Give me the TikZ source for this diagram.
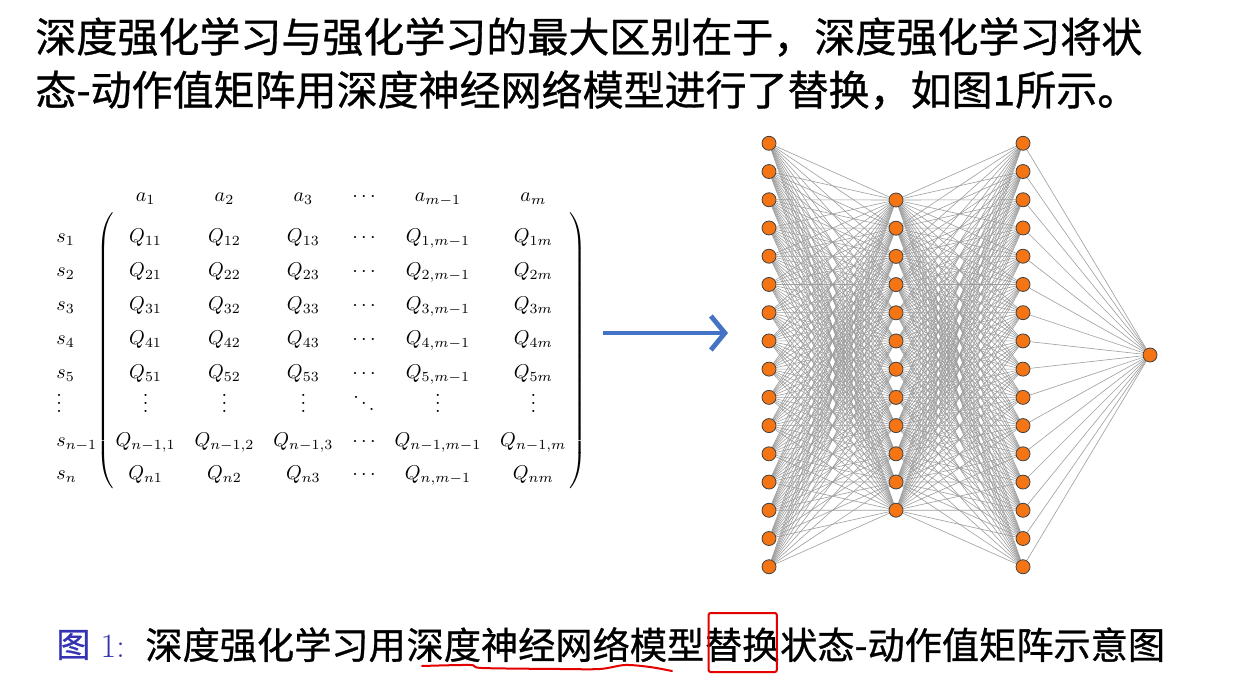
\documentclass[tikz,border=0pt]{standalone}
\usepackage{fontspec}
\newfontfamily\cjk{Noto Sans CJK SC}[FakeBold=0.8]
\usetikzlibrary{arrows.meta,chains,matrix,positioning,backgrounds,calc}
\definecolor{nnorange}{RGB}{245,117,20}
\definecolor{arrowblue}{RGB}{68,114,196}
\definecolor{capblue}{RGB}{51,51,179}

\begin{document}
\begin{tikzpicture}[
  x=0.5pt, y=-0.5pt,
  neuron/.style={circle,draw=black!75,fill=nnorange,line width=0.4pt,minimum size=7pt,inner sep=0pt},
  synapse/.style={draw=black!38,line width=0.3pt},
  titleline/.style={anchor=west,inner sep=0pt,font=\cjk\fontsize{20.5}{24}\selectfont},
  captxt/.style={inner sep=0pt,text height=16.3pt,text depth=2.3pt,font=\cjk\fontsize{18.6}{22}\selectfont},
  capname/.style={anchor=west,inner sep=0pt,text=capblue,font=\fontsize{17}{20}\selectfont},
  cell/.style={inner sep=0pt,text height=7.2pt,text depth=2.4pt,font=\fontsize{10}{12}\selectfont},
  paren/.style={inner sep=0pt,font=\fontsize{10}{12}\selectfont},
  bigarrow/.style={arrowblue,line width=2pt,-{Straight Barb[length=7pt,width=17pt,line width=2.4pt]}},
  markbox/.style={draw=red!90!black,line width=1pt,rounded corners=1pt},
  markwave/.style={draw=red!90!black,line width=1pt,line cap=round}
]
  \useasboundingbox (0,0) rectangle (1236,689);

  \node[titleline] (title-1) at (35,37) {深度强化学习与强化学习的最大区别在于，深度强化学习将状};
  \node[titleline] (title-2) at (35,90) {态-动作值矩阵用深度神经网络模型进行了替换，如图1所示。};

  \matrix (qmat) [matrix of math nodes,nodes={cell},column sep=9.5pt,row sep=7.35pt,inner sep=0pt] at (341,356.5) {
    Q_{11} & Q_{12} & Q_{13} & \cdots & Q_{1,m-1} & Q_{1m} \\
    Q_{21} & Q_{22} & Q_{23} & \cdots & Q_{2,m-1} & Q_{2m} \\
    Q_{31} & Q_{32} & Q_{33} & \cdots & Q_{3,m-1} & Q_{3m} \\
    Q_{41} & Q_{42} & Q_{43} & \cdots & Q_{4,m-1} & Q_{4m} \\
    Q_{51} & Q_{52} & Q_{53} & \cdots & Q_{5,m-1} & Q_{5m} \\
    \vdots & \vdots & \vdots & \ddots & \vdots & \vdots \\
    Q_{n-1,1} & Q_{n-1,2} & Q_{n-1,3} & \cdots & Q_{n-1,m-1} & Q_{n-1,m} \\
    Q_{n1} & Q_{n2} & Q_{n3} & \cdots & Q_{n,m-1} & Q_{nm} \\
  };
  \node[paren] (paren-l) at (106,351) {$\left(\vcenter{\hrule height 139pt width 0pt}\right.$};
  \node[paren] (paren-r) at (577,351) {$\left.\vcenter{\hrule height 139pt width 0pt}\right)$};
  \foreach \j/\lab in {1/a_1,2/a_2,3/a_3,4/\cdots,5/a_{m-1},6/a_m}
    \node[cell,above=10.5pt of qmat-1-\j] (act-\j) {$\lab$};
  \foreach \i/\lab in {1/s_1,2/s_2,3/s_3,4/s_4,5/s_5,6/\vdots,7/s_{n-1},8/s_n}
    \node[cell,anchor=west] (state-\i) at (56,0 |- qmat-\i-1) {$\lab$};

  \coordinate (arrow-tail) at (603,333);
  \coordinate (arrow-head) at (728,333);
  \draw[bigarrow] (arrow-tail) -- (arrow-head);

  \foreach \i in {1,...,16} {
    \node[neuron] (in-\i) at (769,{143.3+28.23*(\i-1)}) {};
    \node[neuron] (hid-b-\i) at (1023,{143.3+28.23*(\i-1)}) {};
  }
  \foreach \j in {1,...,12}
    \node[neuron] (hid-a-\j) at (896,{200+28.2*(\j-1)}) {};
  \node[neuron] (out) at (1150,355) {};

  \begin{scope}[on background layer]
    \fill[white] (0,0) rectangle (1236,689);
    \foreach \i in {1,...,16} {
      \foreach \j in {1,...,12} {
        \draw[synapse] (in-\i) -- (hid-a-\j);
        \draw[synapse] (hid-a-\j) -- (hid-b-\i);
      }
      \draw[synapse] (hid-b-\i) -- (out);
    }
  \end{scope}

  \node[capname] (cap-name) at (56,645) {{\cjk 图}\ 1:};
  \begin{scope}[start chain=caption going right,node distance=0pt]
    \node[captxt,on chain=caption,anchor=west] (cap-head) at (145,645) {深度强化学习用};
    \node[captxt,on chain=caption] (cap-net) {深度神经网络模型};
    \node[captxt,on chain=caption] (cap-swap) {替换};
    \node[captxt,on chain=caption] (cap-tail) {状态-动作值矩阵示意图};
  \end{scope}

  \draw[markbox] ($(cap-swap.north west)+(4,-13)$) rectangle ($(cap-swap.south east)+(-3,8)$);
  \draw[markwave] plot[smooth] coordinates {(422,666) (470,665) (482,668) (560,669) (600,669) (625,665) (650,667) (672,671)};
\end{tikzpicture}
\end{document}
